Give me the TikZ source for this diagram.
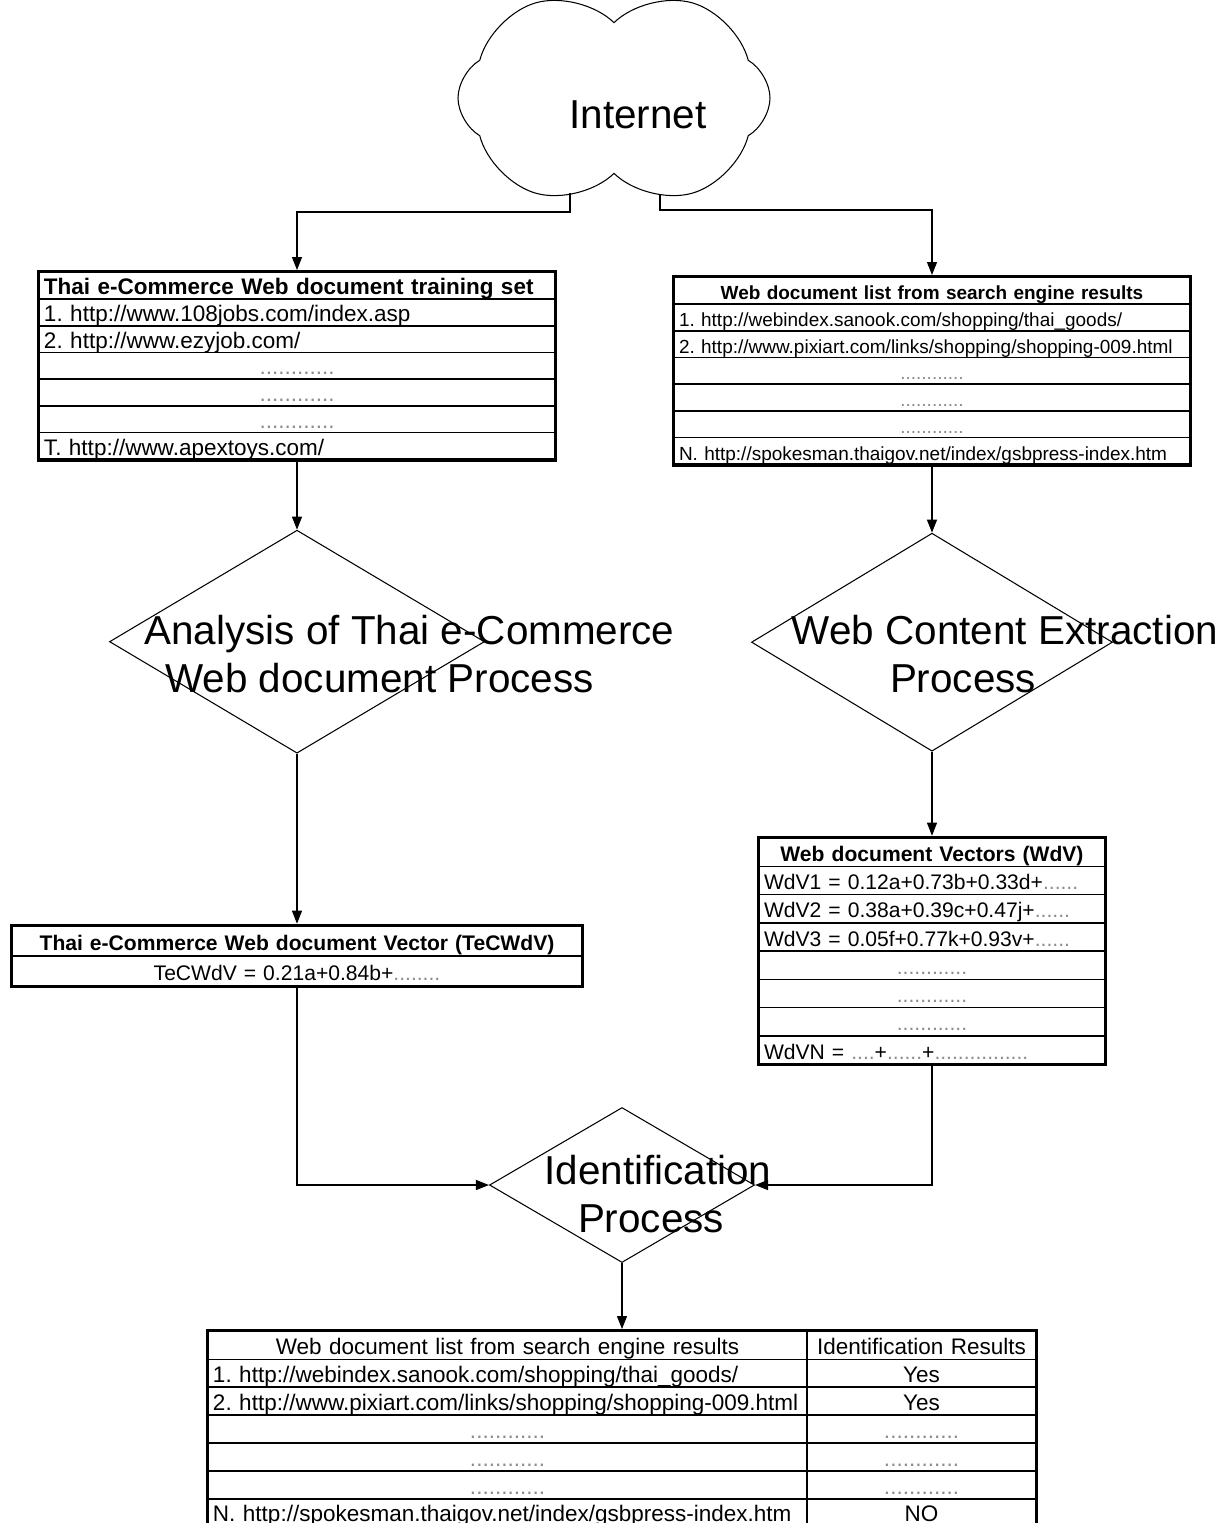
\documentclass[tikz,border=0pt]{standalone}
\usepackage{fontspec}
\setmainfont{Liberation Sans}
\usetikzlibrary{shapes.geometric, shapes.symbols, arrows.meta, matrix, positioning}
\definecolor{dotgray}{gray}{0.55}
\newcommand{\dimdots}[1]{\textcolor{dotgray}{#1}}
\frenchspacing
\tikzstyle{decision} = [diamond, draw=black, line width=0.3pt, inner sep=0pt]
\tikzstyle{bigtext} = [align=center, inner sep=0pt, font=\fontsize{11.5}{13.7}\selectfont]
\tikzstyle{arrow} = [line width=0.3pt, -{Triangle[length=0.13cm,width=0.1cm]}]
\tikzstyle{listtable} = [matrix of nodes, draw=black, line width=0.9pt, inner sep=0pt, row sep=-0.45pt, column sep=-0.45pt,
  nodes={draw=black, line width=0.45pt, inner xsep=0.05cm, inner ysep=0pt, text height=6.2pt, text depth=1pt, align=left}]
\tikzstyle{dotrows} = [row 4/.style={nodes={align=center}}, row 5/.style={nodes={align=center}}, row 6/.style={nodes={align=center}}]

\begin{document}
\begin{tikzpicture}
\useasboundingbox (0,0) rectangle (12.29,-15.23);

% cloud is built upright and turned, so that a dip sits on top
\node (internet) [cloud, draw=black, line width=0.3pt, cloud puffs=6, cloud puff arc=120, aspect=0.62, minimum width=2.2cm, minimum height=3.12cm, rotate=90] at (6.14,-0.98) {};
\node (internettext) [bigtext] at ([xshift=0.24cm, yshift=-0.165cm]internet.center) {Internet};

% training set and search results
\matrix (trainset) [listtable, dotrows, anchor=north, nodes={font=\fontsize{6.4}{7.6}\selectfont, text width=5.06cm, minimum height=0.267cm},
  row 1/.style={nodes={font=\fontsize{6.4}{7.6}\selectfont\bfseries}}] at (2.97,-2.70) {
  Thai e-Commerce Web document training set \\
  1. http://www.108jobs.com/index.asp \\
  2. http://www.ezyjob.com/ \\
  \dimdots{............} \\
  \dimdots{............} \\
  \dimdots{............} \\
  T. http://www.apextoys.com/ \\
};
\matrix (searchlist) [listtable, dotrows, anchor=north, nodes={font=\fontsize{5.4}{6.4}\selectfont, text width=5.06cm, minimum height=0.267cm},
  row 1/.style={nodes={font=\fontsize{5.4}{6.4}\selectfont\bfseries, align=center}}] at (9.32,-2.75) {
  Web document list from search engine results \\
  1. http://webindex.sanook.com/shopping/thai\_goods/ \\
  2. http://www.pixiart.com/links/shopping/shopping-009.html \\
  \dimdots{............} \\
  \dimdots{............} \\
  \dimdots{............} \\
  N. http://spokesman.thaigov.net/index/gsbpress-index.htm \\
};

% processes
\node (analysis) [decision, below=0.68cm of trainset, minimum width=3.75cm, minimum height=2.23cm] {};
\node (analysistext) [bigtext] at ([xshift=1.125cm, yshift=-0.125cm]analysis.center) {Analysis of Thai e-Commerce\\Web document Process\hspace*{0.6cm}};
\node (extraction) [decision, below=0.66cm of searchlist, minimum width=3.61cm, minimum height=2.18cm] {};
\node (extractiontext) [bigtext] at ([xshift=0.73cm, yshift=-0.12cm]extraction.center) {Web Content Extraction\\Process\hspace*{0.84cm}};

% vectors
\matrix (tecwdv) [listtable, below=1.70cm of analysis, nodes={font=\fontsize{6}{7.2}\selectfont, text width=5.6cm, minimum height=0.30cm, align=center},
  row 1/.style={nodes={font=\fontsize{6}{7.2}\selectfont\bfseries}}] {
  Thai e-Commerce Web document Vector (TeCWdV) \\
  TeCWdV = 0.21a+0.84b+\dimdots{........} \\
};
\matrix (wdvlist) [listtable, below=0.84cm of extraction, nodes={font=\fontsize{6}{7.2}\selectfont, text width=3.36cm, minimum height=0.2825cm},
  row 1/.style={nodes={font=\fontsize{6}{7.2}\selectfont\bfseries, align=center}},
  row 5/.style={nodes={align=center}}, row 6/.style={nodes={align=center}}, row 7/.style={nodes={align=center}}] {
  Web document Vectors (WdV) \\
  WdV1 = 0.12a+0.73b+0.33d+\dimdots{......} \\
  WdV2 = 0.38a+0.39c+0.47j+\dimdots{......} \\
  WdV3 = 0.05f+0.77k+0.93v+\dimdots{......} \\
  \dimdots{............} \\
  \dimdots{............} \\
  \dimdots{............} \\
  WdVN = \dimdots{....}+\dimdots{......}+\dimdots{................} \\
};

% identification
\node (identify) [decision, minimum width=2.65cm, minimum height=1.55cm] at (6.22,-11.85) {};
\node (identifytext) [bigtext] at ([xshift=0.36cm, yshift=-0.09cm]identify.center) {Identification\\Process\hspace*{0.14cm}};

\matrix (results) [listtable, dotrows, below=0.66cm of identify, nodes={font=\fontsize{6.4}{7.6}\selectfont, minimum height=0.279cm},
  column 1/.style={nodes={text width=5.89cm}}, column 2/.style={nodes={text width=2.19cm, align=center}},
  row 1/.style={nodes={align=center}}] {
  Web document list from search engine results & Identification Results \\
  1. http://webindex.sanook.com/shopping/thai\_goods/ & Yes \\
  2. http://www.pixiart.com/links/shopping/shopping-009.html & Yes \\
  \dimdots{............} & \dimdots{............} \\
  \dimdots{............} & \dimdots{............} \\
  \dimdots{............} & \dimdots{............} \\
  N. http://spokesman.thaigov.net/index/gsbpress-index.htm & NO \\
};

\draw [arrow] ([xshift=-0.44cm, yshift=-0.95cm]internet.center) |- ([yshift=0.58cm]trainset.north) -- (trainset.north);
\draw [arrow] ([xshift=0.46cm, yshift=-0.97cm]internet.center) |- ([yshift=0.65cm]searchlist.north) -- (searchlist.north);
\draw [arrow] (trainset.south) -- (analysis.north);
\draw [arrow] (searchlist.south) -- (extraction.north);
\draw [arrow] (analysis.south) -- (tecwdv.north);
\draw [arrow] (extraction.south) -- (wdvlist.north);
\draw [arrow] (tecwdv.south) |- (identify.west);
\draw [arrow] (wdvlist.south) |- (identify.east);
\draw [arrow] (identify.south) -- (results.north);
\end{tikzpicture}
\end{document}
